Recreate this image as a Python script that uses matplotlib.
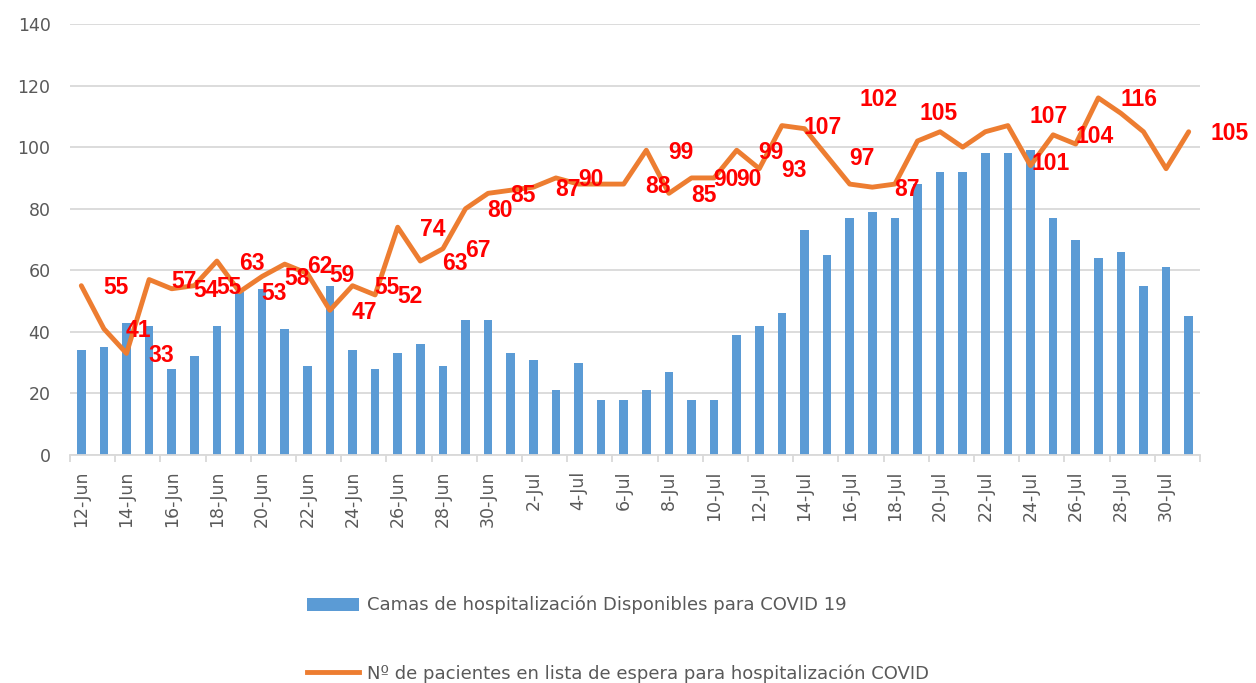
import numpy as np
import matplotlib
matplotlib.use("Agg")
import matplotlib.pyplot as plt
from matplotlib.lines import Line2D
from matplotlib.patches import Patch

# fechas 12-Jun .. 31-Jul
dias_jun = [f"{d}-Jun" for d in range(12, 31)]
dias_jul = [f"{d}-Jul" for d in range(1, 32)]
fechas = dias_jun + dias_jul

# camas disponibles (barras)
camas = [34, 35, 43, 42, 28, 32, 42, 53, 54, 41,
         29, 55, 34, 28, 33, 36, 29, 44, 44, 33,
         31, 21, 30, 18, 18, 21, 27, 18, 18, 39,
         42, 46, 73, 65, 77, 79, 77, 88, 92, 92,
         98, 98, 99, 77, 70, 64, 66, 55, 61, 45]

# pacientes en lista de espera (linea)
espera = [55, 41, 33, 57, 54, 55, 63, 53, 58, 62,
          59, 47, 55, 52, 74, 63, 67, 80, 85, 86,
          87, 90, 88, 88, 88, 99, 85, 90, 90, 99,
          93, 107, 106, 97, 88, 87, 88, 102, 105, 100,
          105, 107, 94, 104, 101, 116, 111, 105, 93, 105]

# puntos con etiqueta visible
etiquetas = [0, 1, 2, 3, 4, 5, 6, 7, 8, 9, 10, 11, 12, 13, 14, 15, 16, 17, 18,
             20, 21, 24, 25, 26, 27, 28, 29, 30, 31, 33, 35, 37, 38, 41, 43,
             44, 45, 49]

# desplazamiento de etiquetas (pixeles), por defecto a la derecha
desp = {37: (-58, 41), 38: (-21, 18), 41: (22, 9), 44: (-44, -19)}

azul = "#5B9BD5"
naranja = "#ED7D31"
gris = "#595959"
rejilla = "#D9D9D9"

fig = plt.figure(figsize=(12.56, 6.83), dpi=100)
ax = fig.add_axes([70 / 1256, 1 - 455 / 683, 1130 / 1256, 431 / 683])

x = np.arange(len(fechas))
ax.bar(x, camas, width=0.38, color=azul, zorder=2)
ax.plot(x, espera, color=naranja, lw=3.5, solid_joinstyle="round",
        solid_capstyle="round", zorder=3)

for i in etiquetas:
    dx, dy = desp.get(i, (22, -2))
    ax.annotate(str(espera[i]), (x[i], espera[i]), xytext=(dx, dy),
                textcoords="offset pixels", ha="left", va="center",
                color="red", fontsize=16.5, fontweight="bold",
                family="Liberation Sans", zorder=4)

ax.set_xlim(-0.5, len(fechas) - 0.5)
ax.set_ylim(0, 140)
ax.set_yticks(range(0, 141, 20))
ax.yaxis.grid(True, color=rejilla, lw=1.3)
ax.set_axisbelow(True)
for s in ["left", "right", "top"]:
    ax.spines[s].set_visible(False)
ax.spines["bottom"].set_color(rejilla)
ax.spines["bottom"].set_linewidth(1.3)

ax.set_xticks(x[::2])
ax.set_xticklabels(fechas[::2], rotation=90)
ax.set_xticks(np.arange(-0.5, len(fechas), 2), minor=True)
ax.tick_params(axis="x", which="major", length=0, pad=11, labelsize=12.5, labelcolor=gris)
ax.tick_params(axis="x", which="minor", length=5, width=1.3, color=rejilla)
ax.tick_params(axis="y", length=0, pad=14, labelsize=12.5, labelcolor=gris)

h1 = Patch(facecolor=azul, edgecolor="none")
h2 = Line2D([], [], color=naranja, lw=3.5)
fig.legend([h1, h2],
           ["Camas de hospitalización Disponibles para COVID 19",
            "Nº de pacientes en lista de espera para hospitalización COVID"],
           loc="upper left", bbox_to_anchor=(307 / 1256, 1 - 596 / 683),
           frameon=False, fontsize=13, labelcolor=gris, handlelength=2.9,
           handletextpad=0.4, labelspacing=2.75, borderpad=0, borderaxespad=0)

fig.savefig("out.png", dpi=100)
